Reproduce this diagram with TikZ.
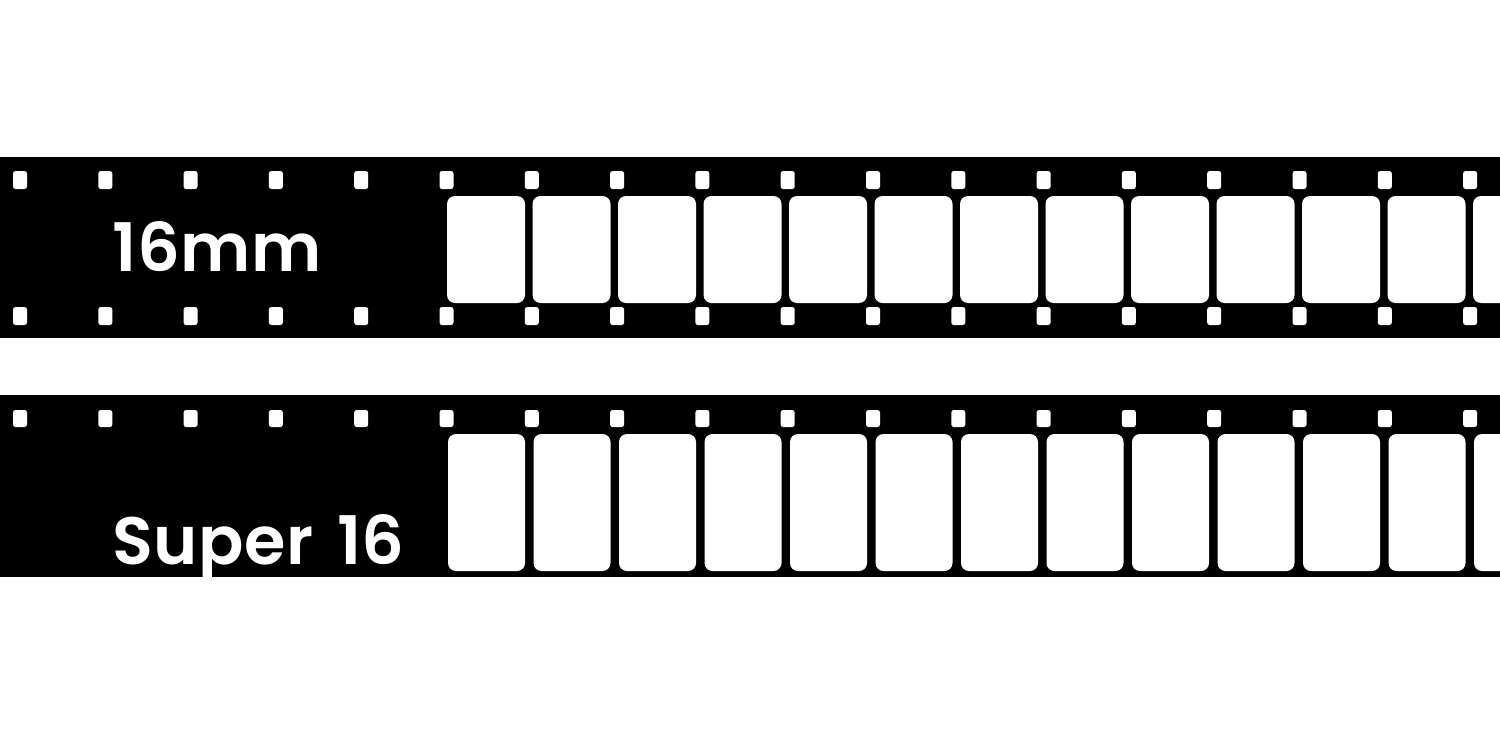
\documentclass[tikz,border=0pt]{standalone}
\usepackage{fontspec}
\newfontfamily\filmfont{Poppins}[UprightFont={* SemiBold},WordSpace=1.4,LetterSpace=1]
\begin{document}
\begin{tikzpicture}[x=1pt,y=-1pt]
    \useasboundingbox (0,0) rectangle (1500,731);
    \clip (0,0) rectangle (1500,731);
    \fill[white] (0,0) rectangle (1500,731);

    % 16mm strip
    \fill[black] (0,157) rectangle (1500,338);
    % perforations on both edges
    \foreach \i in {0,...,17} {
        \fill[white,rounded corners=2.5pt] ({13+85.3*\i},171) rectangle ++(14,18);
        \fill[white,rounded corners=2.5pt] ({13+85.3*\i},307) rectangle ++(14,18);
    }
    % frames
    \foreach \i in {0,...,12}
        \fill[white,rounded corners=8pt] ({447+85.5*\i},196) rectangle ++(78,107);
    \node[anchor=base west,inner sep=0,text=white,font=\filmfont\fontsize{67}{67}\selectfont] (label16) at (112,271) {16mm};

    % Super 16 strip
    \fill[black] (0,395) rectangle (1500,577);
    % perforations on one edge only
    \foreach \i in {0,...,17}
        \fill[white,rounded corners=2.5pt] ({13+85.3*\i},410) rectangle ++(14,17);
    % wider frames
    \foreach \i in {0,...,12}
        \fill[white,rounded corners=8pt] ({448+85.5*\i},434) rectangle ++(77,137);
    \node[anchor=base west,inner sep=0,text=white,font=\filmfont\fontsize{67}{67}\selectfont] (labelsuper) at (112,564) {Super 16};

\end{tikzpicture}
\end{document}
